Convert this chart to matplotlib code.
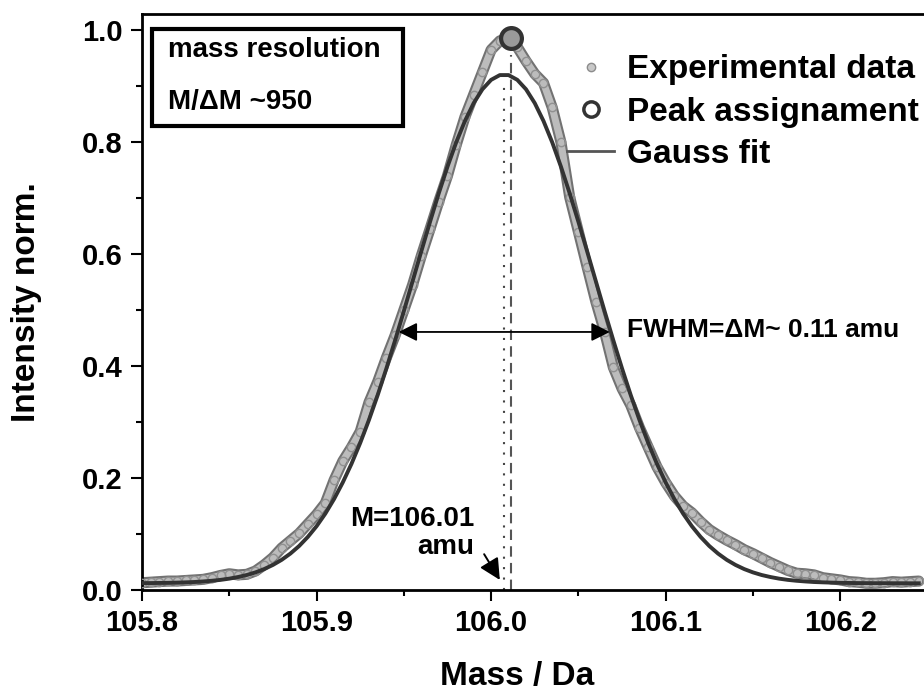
import matplotlib.pyplot as plt
import numpy as np
from matplotlib.lines import Line2D

plt.rcParams['font.family'] = ['Liberation Sans', 'DejaVu Sans']
plt.rcParams['font.weight'] = 'bold'

# measured spectrum (normalised), 0.005 Da steps
mass = np.round(np.arange(105.800, 106.2451, 0.005), 3)
intensity = [0.013, 0.014, 0.015, 0.016, 0.016, 0.017, 0.018, 0.019, 0.022, 0.026,
             0.029, 0.027, 0.028, 0.034, 0.045, 0.058, 0.075, 0.088, 0.101, 0.118,
             0.135, 0.155, 0.196, 0.230, 0.255, 0.283, 0.335, 0.372, 0.415, 0.455,
             0.500, 0.545, 0.597, 0.645, 0.694, 0.740, 0.795, 0.845, 0.885, 0.925,
             0.965, 0.981, 0.986, 0.970, 0.945, 0.922, 0.906, 0.862, 0.800, 0.702,
             0.640, 0.577, 0.515, 0.461, 0.398, 0.360, 0.330, 0.290, 0.255, 0.220,
             0.192, 0.168, 0.150, 0.138, 0.122, 0.108, 0.098, 0.089, 0.081, 0.072,
             0.065, 0.057, 0.049, 0.042, 0.035, 0.030, 0.029, 0.027, 0.022, 0.020,
             0.018, 0.015, 0.014, 0.012, 0.012, 0.013, 0.015, 0.014, 0.015, 0.016]

# gauss fit values on the same grid
gauss = [0.0123, 0.0124, 0.0126, 0.0128, 0.0132, 0.0137, 0.0143, 0.0153, 0.0165, 0.0181,
         0.0203, 0.0232, 0.0268, 0.0315, 0.0374, 0.0448, 0.0539, 0.0651, 0.0786, 0.0949,
         0.1140, 0.1364, 0.1624, 0.1921, 0.2254, 0.2627, 0.3037, 0.3481, 0.3958, 0.4461,
         0.4982, 0.5516, 0.6051, 0.6578, 0.7087, 0.7563, 0.7998, 0.8379, 0.8698, 0.8945,
         0.9114, 0.9199, 0.9199, 0.9114, 0.8945, 0.8698, 0.8379, 0.7998, 0.7563, 0.7087,
         0.6578, 0.6051, 0.5516, 0.4982, 0.4461, 0.3958, 0.3481, 0.3037, 0.2627, 0.2254,
         0.1921, 0.1624, 0.1364, 0.1140, 0.0949, 0.0786, 0.0651, 0.0539, 0.0448, 0.0374,
         0.0315, 0.0268, 0.0232, 0.0203, 0.0181, 0.0165, 0.0153, 0.0143, 0.0137, 0.0132,
         0.0128, 0.0126, 0.0124, 0.0123, 0.0122, 0.0122, 0.0121, 0.0121, 0.0120, 0.0120]

peak_mass = 106.0115
peak_int = 0.986
fit_center = 106.0074
fwhm_left, fwhm_right, fwhm_y = 105.947, 106.068, 0.461

fig = plt.figure(figsize=(9.24, 6.97), dpi=100)
ax = fig.add_axes([0.1537, 0.1535, 0.8463, 0.8264])

# experimental band
ax.plot(mass, intensity, color='#727272', lw=8, solid_capstyle='round', zorder=2)
ax.plot(mass, intensity, color='#bcbcbc', lw=5, solid_capstyle='round', zorder=2)
ax.plot(mass, intensity, 'o', ms=6, mfc='none', mec='#909090', mew=1, zorder=3)
ax.plot(mass, gauss, color='#333333', lw=2.8, zorder=4)

ax.plot(peak_mass, peak_int, 'o', ms=15, mfc='#9a9a9a', mec='#333333', mew=3, zorder=5)

ax.plot([fit_center, fit_center], [0, 0.90], color='#444444', lw=1.5, ls=(0, (1, 4)), zorder=1)
ax.plot([peak_mass, peak_mass], [0, 0.955], color='#555555', lw=1.5, ls=(0, (5, 3)), zorder=1)

# FWHM arrow
ax.annotate('', xy=(fwhm_left, fwhm_y), xytext=(fwhm_right, fwhm_y),
            arrowprops=dict(arrowstyle='<|-|>', color='k', lw=1.3, mutation_scale=28,
                            shrinkA=0, shrinkB=0), zorder=6)
ax.text(106.078, 0.465, 'FWHM=ΔM~ 0.11 amu', fontsize=19, va='center', ha='left')

ax.annotate('', xy=(106.005, 0.018), xytext=(105.996, 0.064),
            arrowprops=dict(arrowstyle='-|>', color='k', lw=1.4, mutation_scale=32,
                            shrinkA=0, shrinkB=0))
ax.text(105.9905, 0.102, 'M=106.01\namu', fontsize=20, ha='right', va='center',
        linespacing=1.1)

# box top-left
box = plt.Rectangle((0.0128, 0.806), 0.321, 0.168, transform=ax.transAxes,
                    fill=False, lw=3, ec='k', zorder=7)
ax.add_patch(box)
ax.text(0.0332, 0.938, 'mass resolution', transform=ax.transAxes, fontsize=20,
        va='center', ha='left')
ax.text(0.0332, 0.847, 'M/ΔM ~950', transform=ax.transAxes, fontsize=20,
        va='center', ha='left')

# legend
handles = [Line2D([], [], ls='none', marker='o', ms=6, mfc='#c8c8c8', mec='#8c8c8c'),
           Line2D([], [], ls='none', marker='o', ms=11, mfc='none', mec='#333333', mew=2.5),
           Line2D([], [], color='#555555', lw=2)]
labels = ['Experimental data', 'Peak assignament', 'Gauss fit']
ax.legend(handles, labels, loc='upper left', bbox_to_anchor=(0.527, 0.953),
          frameon=False, fontsize=24, handlelength=1.4, handletextpad=0.4,
          labelspacing=0.34, borderaxespad=0)

ax.set_xlim(105.8, 106.248)
ax.set_ylim(0, 1.029)
ax.set_xticks([105.8, 105.9, 106.0, 106.1, 106.2])
ax.set_xticklabels(['105.8', '105.9', '106.0', '106.1', '106.2'])
ax.set_xticks([105.85, 105.95, 106.05, 106.15], minor=True)
ax.set_yticks([0.0, 0.2, 0.4, 0.6, 0.8, 1.0])
ax.set_yticklabels(['0.0', '0.2', '0.4', '0.6', '0.8', '1.0'])
ax.set_yticks([0.1, 0.3, 0.5, 0.7, 0.9], minor=True)
ax.tick_params(which='major', direction='out', length=8, width=1.5, labelsize=21, pad=6)
ax.tick_params(which='minor', direction='out', length=4.5, width=1.5)

ax.spines['right'].set_visible(False)
for s in ['left', 'bottom', 'top']:
    ax.spines[s].set_linewidth(2)

ax.set_xlabel('Mass / Da', fontsize=24, fontweight='bold')
ax.set_ylabel('Intensity norm.', fontsize=24, fontweight='bold')
ax.xaxis.set_label_coords(0.48, -0.124)
ax.yaxis.set_label_coords(-0.128, 0.5)

fig.savefig('out.png', dpi=100)
